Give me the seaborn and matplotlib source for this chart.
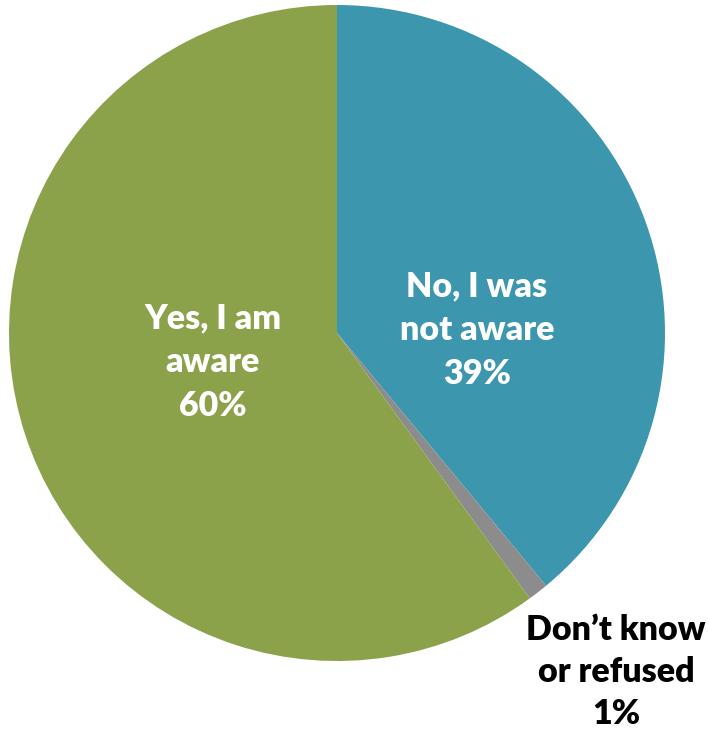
import matplotlib
matplotlib.use("Agg")
import matplotlib.pyplot as plt
import seaborn as sns

sns.set_theme(style="white")
plt.rcParams["font.family"] = ["Lato", "DejaVu Sans"]

# Survey responses, drawn clockwise from 12 o'clock
categories = ["No, I was\nnot aware", "Don\u2019t know\nor refused", "Yes, I am\naware"]
shares = [39, 1, 60]
colors = ["#3B96AE", "#8C8C8C", "#8BA24B"]

W, H = 708, 734
cx, cy, R = 337, 333, 328

fig = plt.figure(figsize=(W / 100, H / 100), dpi=100)
ax = fig.add_axes([0, 0, 1, 1])
ax.pie(shares, colors=colors, startangle=90, counterclock=False,
       radius=1.0, center=(0, 0), wedgeprops=dict(linewidth=0))
ax.set_xlim(-cx / R, (W - cx) / R)
ax.set_ylim((cy - H) / R, cy / R)
ax.set_aspect("auto")
ax.axis("off")


def px(x, y):
    return (x - cx) / R, (cy - y) / R


# Label positions (pixel centres of each text block) and line spacing
label_pos = [(477, 330), (616, 672), (213, 362)]
spacing = [1.45, 1.4, 1.45]
text_colors = ["white", "black", "white"]
for cat, val, (x, y), ls, tc in zip(categories, shares, label_pos, spacing, text_colors):
    ax.text(*px(x, y), f"{cat}\n{val}%", ha="center", va="center",
            color=tc, fontsize=24.5, fontweight="heavy", linespacing=ls)

fig.savefig("out.png", dpi=100, facecolor="white")
